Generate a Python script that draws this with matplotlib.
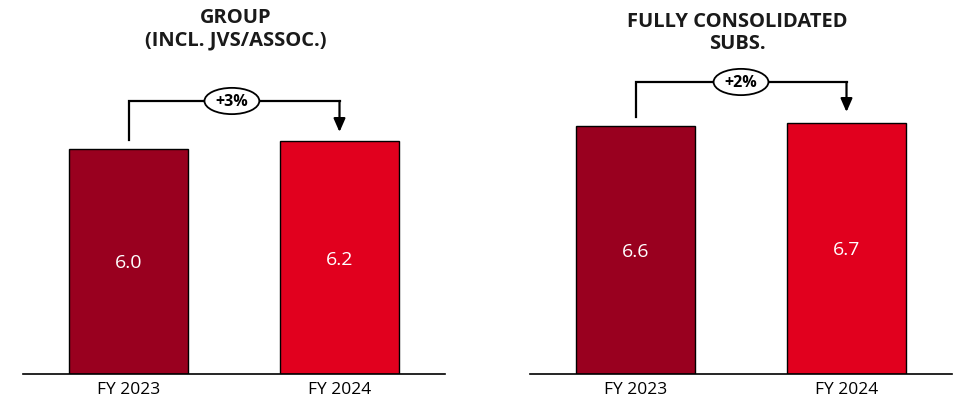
import matplotlib.pyplot as plt
from matplotlib.patches import Ellipse

# chart values
years = ["FY 2023", "FY 2024"]
group_vals = [6.0, 6.2]
subs_vals = [6.6, 6.7]
group_growth = "+3%"
subs_growth = "+2%"
titles = ["GROUP\n(INCL. JVS/ASSOC.)", "FULLY CONSOLIDATED\nSUBS."]

colors = ["#99001F", "#E1001E"]

fig = plt.figure(figsize=(9.57, 4.08), dpi=100)
W, H = 957, 408
scale = 37.5  # px per unit
ytop = 374 / scale


def px_to_y(py):
    return (374 - py) / scale


def panel(left_px, vals, growth, line_y, start_y, tip_y, ell_x):
    ax = fig.add_axes([left_px / W, 34 / H, 422 / W, 374 / H])
    x = [0, 1]
    ax.bar(x, vals, width=0.56, color=colors, edgecolor="black", linewidth=1)
    for xi, v in zip(x, vals):
        ax.text(xi, v / 2 - 0.05, f"{v:.1f}", color="white", ha="center", va="center",
                fontsize=14, family="Open Sans")
    ax.set_xlim(-0.5, 1.5)
    ax.set_ylim(0, ytop)
    for s in ["top", "right", "left"]:
        ax.spines[s].set_visible(False)
    ax.spines["bottom"].set_linewidth(1.2)
    ax.set_yticks([])
    ax.set_xticks(x)
    ax.set_xticklabels(years, fontsize=12.5, family="Open Sans")
    ax.tick_params(axis="x", length=0, pad=6)

    # growth bracket
    ly = px_to_y(line_y)
    ax.plot([0, 0, 1], [px_to_y(start_y), ly, ly], color="black", lw=1.6,
            solid_joinstyle="miter", clip_on=False)
    ax.annotate("", xy=(1, px_to_y(tip_y)), xytext=(1, ly),
                arrowprops=dict(arrowstyle="-|>,head_width=0.35,head_length=0.8",
                                color="black", lw=1.6, shrinkA=0, shrinkB=0))
    ax.add_patch(Ellipse((ell_x, ly), 0.26, 0.7, facecolor="white",
                         edgecolor="black", lw=1.3, zorder=3, clip_on=False))
    ax.text(ell_x, ly - 0.02, growth, ha="center", va="center", fontsize=11.5,
            fontweight="bold", family="Open Sans", zorder=4)
    return ax


panel(23, group_vals, group_growth, 101, 140, 132, 0.49)
panel(530, subs_vals, subs_growth, 82, 117, 112, 0.50)

fig.text(236 / W, 1 - 29 / H, titles[0], ha="center", va="center", fontsize=14.5,
         fontweight="bold", family="Open Sans", linespacing=1.15, color="#1a1a1a")
fig.text(737 / W, 1 - 33 / H, titles[1], ha="center", va="center", fontsize=14.5,
         fontweight="bold", family="Open Sans", linespacing=1.15, color="#1a1a1a")

fig.savefig("out.png", dpi=100)
